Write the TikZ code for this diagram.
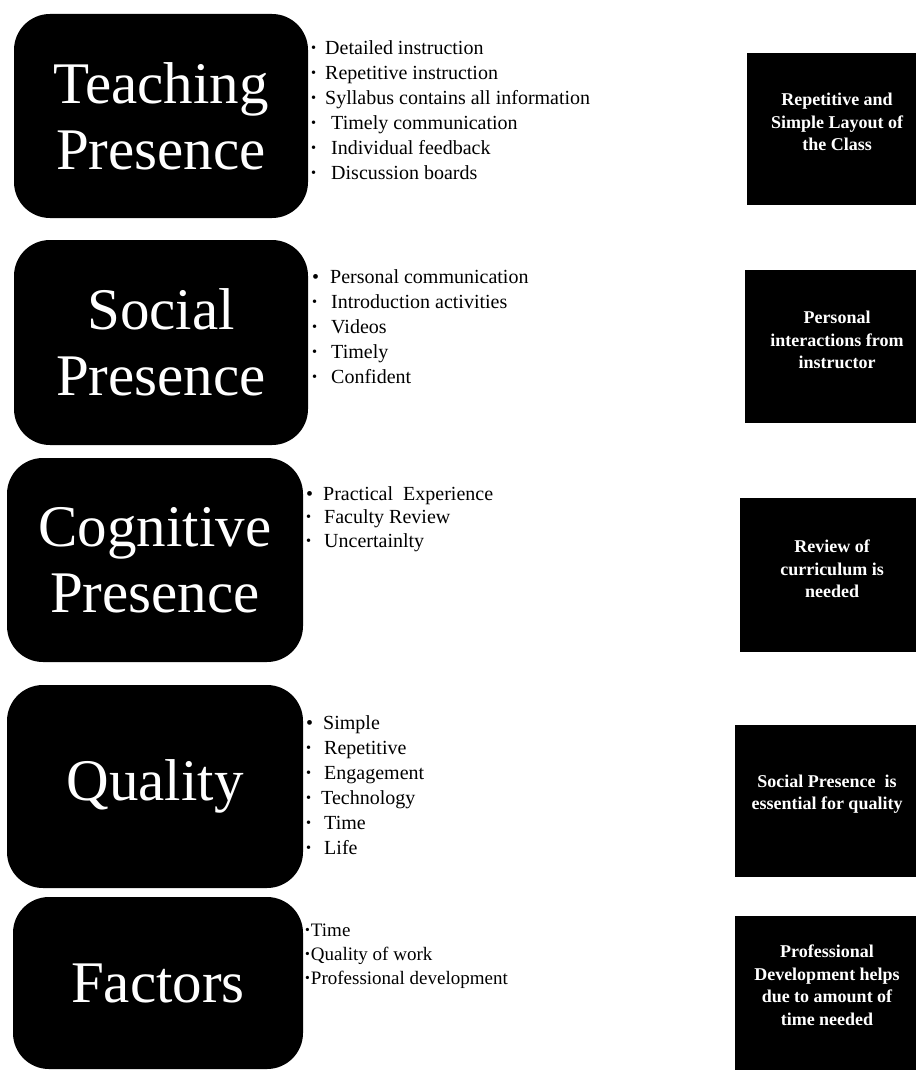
\documentclass[tikz,border=0pt]{standalone}
\usepackage{fontspec}
\setmainfont{Liberation Serif}
\usepackage{graphicx}
\newcommand\sbul{\raisebox{0.1em}{\scalebox{0.72}{•}}}
\newcommand\bbul{•}
\begin{document}
\begin{tikzpicture}[x=1pt,y=-1pt,
  lbox/.style={fill=black, rounded corners=36pt, inner sep=0pt, text=white, align=center,
    font=\fontsize{59}{66}\selectfont},
  blist/.style={anchor=north west, inner sep=0pt, align=left, font=\fontsize{20}{25}\selectfont},
  rbox/.style={fill=black, inner sep=0pt},
  rtext/.style={text=white, align=center, inner sep=0pt, font=\bfseries\fontsize{18}{22.5}\selectfont}]
\useasboundingbox (0,0) rectangle (916,1070);

% left boxes
\node[lbox, minimum width=294pt, minimum height=204pt] (tp) at (161,116) {Teaching\\Presence};
\node[lbox, minimum width=294pt, minimum height=205pt] (sp) at (161,342.5) {Social\\Presence};
\node[lbox, minimum width=296pt, minimum height=204pt] (cp) at (155,560) {Cognitive\\Presence};
\node[lbox, minimum width=296pt, minimum height=203pt] (qu) at (155,786.5) {Quality};
\node[lbox, minimum width=290pt, minimum height=172pt] (fa) at (158,983) {Factors};

% bullet lists
\node[blist] (tpl) at (311,40) {%
\sbul\hspace{9pt}Detailed instruction\\
\sbul\hspace{9pt}Repetitive instruction\\
\sbul\hspace{9pt}Syllabus contains all information\\
\sbul\hspace{15pt}Timely communication\\
\sbul\hspace{15pt}Individual feedback\\
\sbul\hspace{15pt}Discussion boards};

\node[blist] (spl) at (312,269) {%
\bbul\hspace{11pt}Personal communication\\
\sbul\hspace{14pt}Introduction activities\\
\sbul\hspace{14pt}Videos\\
\sbul\hspace{14pt}Timely\\
\sbul\hspace{14pt}Confident};

\node[blist, font=\fontsize{20}{23.5}\selectfont] (cpl) at (306,486) {%
\bbul\hspace{10pt}Practical\ \ Experience\\
\sbul\hspace{13pt}Faculty Review\\
\sbul\hspace{13pt}Uncertainlty};

\node[blist] (qul) at (306,715) {%
\bbul\hspace{10pt}Simple\\
\sbul\hspace{13pt}Repetitive\\
\sbul\hspace{13pt}Engagement\\
\sbul\hspace{10pt}Technology\\
\sbul\hspace{13pt}Time\\
\sbul\hspace{13pt}Life};

\node[blist, font=\fontsize{19}{24}\selectfont] (fal) at (305,924) {%
\sbul\hspace{1pt}Time\\
\sbul\hspace{1pt}Quality of work\\
\sbul\hspace{1pt}Professional development};

% right boxes
\node[rbox, minimum width=169pt, minimum height=152pt] (r1) at (831.5,129) {};
\node[rbox, minimum width=171pt, minimum height=153pt] (r2) at (830.5,346.5) {};
\node[rbox, minimum width=176pt, minimum height=154pt] (r3) at (828,575) {};
\node[rbox, minimum width=181pt, minimum height=152pt] (r4) at (825.5,801) {};
\node[rbox, minimum width=181pt, minimum height=154pt] (r5) at (825.5,993) {};

\node[rtext] (r1t) at (837,122) {Repetitive and\\Simple Layout of\\the Class};
\node[rtext] (r2t) at (837,340) {Personal\\interactions from\\instructor};
\node[rtext] (r3t) at (832,569) {Review of\\curriculum is\\needed};
\node[rtext] (r4t) at (827,794) {Social Presence\ \ is\\essential for quality};
\node[rtext] (r5t) at (827,985) {Professional\\Development helps\\due to amount of\\time needed};
\end{tikzpicture}
\end{document}
